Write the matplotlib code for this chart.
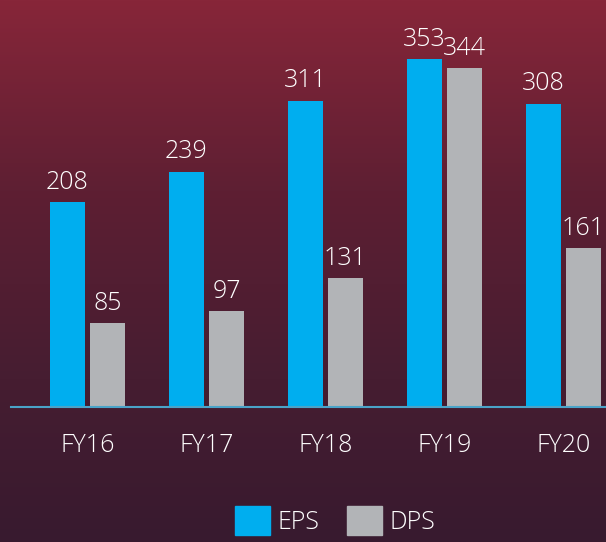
import numpy as np
import matplotlib.pyplot as plt
from matplotlib.colors import LinearSegmentedColormap
from matplotlib.patches import Patch

years = ["FY16", "FY17", "FY18", "FY19", "FY20"]
eps = [208, 239, 311, 353, 308]
dps = [85, 97, 131, 344, 161]

plt.rcParams['font.family'] = ['Open Sans', 'DejaVu Sans']
plt.rcParams['font.weight'] = 'light'

fig = plt.figure(figsize=(6.06, 5.42), dpi=100)

# gradient background
bg = fig.add_axes([0, 0, 1, 1])
cmap = LinearSegmentedColormap.from_list("bg", [(0, "#872639"), (0.35, "#5e1f33"), (0.7, "#461d31"), (1, "#381a2f")])
bg.imshow(np.linspace(0, 1, 256).reshape(-1, 1), aspect='auto', cmap=cmap, extent=[0, 1, 0, 1])
bg.axis('off')

ax = fig.add_axes([11 / 606, 135 / 542, 595 / 606, 394 / 542])
ax.patch.set_alpha(0)
x = np.arange(len(years))
w = 0.30
off = 0.168
b1 = ax.bar(x - off, eps, w, color="#00aeef")
b2 = ax.bar(x + off, dps, w, color="#b2b4b7")

for bars in (b1, b2):
    for r in bars:
        ax.annotate(str(int(r.get_height())), (r.get_x() + r.get_width() / 2, r.get_height()),
                    xytext=(0, 9.5), textcoords='offset points', ha='center', va='baseline',
                    color='white', fontsize=18)

ax.set_xlim(-0.642, 4.358)
ax.set_ylim(0, 400)
ax.set_yticks([])
ax.set_xticks(x)
ax.set_xticklabels(years, color='white', fontsize=18)
ax.tick_params(axis='x', length=0, pad=19)
for s in ['top', 'right', 'left']:
    ax.spines[s].set_visible(False)
ax.spines['bottom'].set_color('#4aa3c8')
ax.spines['bottom'].set_linewidth(1.5)

handles = [Patch(color="#00aeef", label="EPS"), Patch(color="#b2b4b7", label="DPS")]
fig.legend(handles=handles, loc='center', bbox_to_anchor=(0.553, 0.039), ncol=2, frameon=False,
           fontsize=18, labelcolor='white', handlelength=1.4, handleheight=1.4,
           handletextpad=0.3, columnspacing=1.1, borderpad=0)

fig.savefig("out.png", dpi=100)
